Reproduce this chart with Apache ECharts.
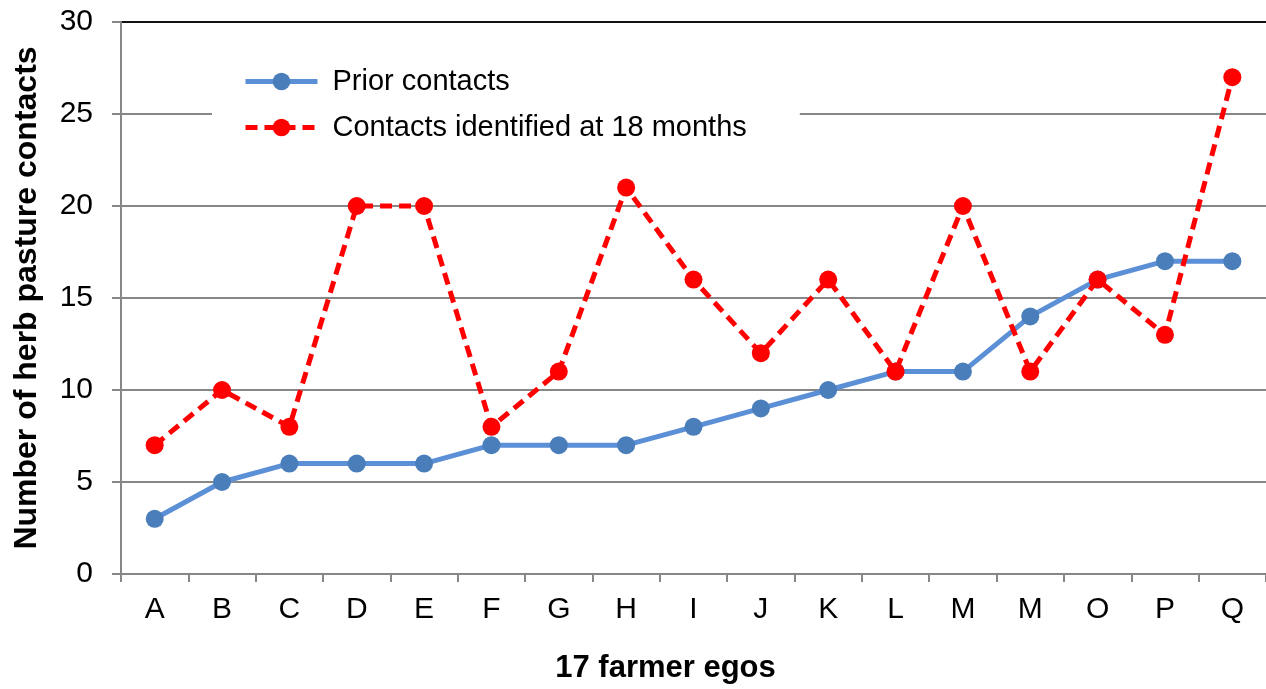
<!DOCTYPE html>
<html>
<head>
<meta charset="utf-8">
<script src="https://cdn.jsdelivr.net/npm/echarts@6/dist/echarts.min.js"></script>
<style>
html,body{margin:0;padding:0;background:#fff;}
#chart{width:1266px;height:689px;}
</style>
</head>
<body>
<div id="chart"></div>
<script>
const categories = ['A','B','C','D','E','F','G','H','I','J','K','L','M','M','O','P','Q'];
const priorContacts = [3,5,6,6,6,7,7,7,8,9,10,11,11,14,16,17,17];
const contacts18 = [7,10,8,20,20,8,11,21,16,12,16,11,20,11,16,13,27];
const seriesNames = ['Prior contacts','Contacts identified at 18 months'];
const yTicks = {min:0, max:30, interval:5};

const FONT = 'Arial, "Liberation Sans", sans-serif';
const gridGray = '#878787';

const chart = echarts.init(document.getElementById('chart'));
chart.setOption({
  animation:false,
  backgroundColor:'#fff',
  grid:{left:121, right:0, top:22, bottom:112, containLabel:false},
  legend:{
    orient:'vertical',
    left:212, top:57,
    backgroundColor:'#fff',
    padding:[10,53,10,31],
    itemWidth:72, itemHeight:22,
    itemGap:17,
    lineStyle:{width:5},
    textStyle:{fontFamily:FONT, fontSize:29, color:'#000', padding:[0,0,0,10]},
    data:seriesNames
  },
  xAxis:{
    type:'category',
    data:categories,
    boundaryGap:true,
    name:'17 farmer egos',
    nameLocation:'middle',
    nameGap:79,
    nameTextStyle:{fontFamily:FONT, fontSize:31, fontWeight:'bold', color:'#000', padding:[0,56,0,0]},
    axisLine:{lineStyle:{color:gridGray, width:2}},
    axisTick:{show:true, length:8, lineStyle:{color:gridGray, width:2}, alignWithLabel:false},
    axisLabel:{fontFamily:FONT, fontSize:30, color:'#000', margin:21, interval:0}
  },
  yAxis:{
    type:'value',
    min:yTicks.min, max:yTicks.max, interval:yTicks.interval,
    name:'Number of herb pasture contacts',
    nameLocation:'middle',
    nameGap:78,
    nameTextStyle:{fontFamily:FONT, fontSize:32, fontWeight:'bold', color:'#000'},
    axisLine:{show:true, lineStyle:{color:gridGray, width:2}},
    axisTick:{show:true, length:9, lineStyle:{color:gridGray, width:2}},
    axisLabel:{fontFamily:FONT, fontSize:30, color:'#000', margin:28},
    splitLine:{show:true, lineStyle:{color:[gridGray,gridGray,gridGray,gridGray,gridGray,gridGray,'#111'], width:2}}
  },
  series:[
    {
      name:seriesNames[0],
      type:'line',
      data:priorContacts,
      symbol:'circle', symbolSize:18,
      lineStyle:{color:'#5B8FD6', width:5},
      itemStyle:{color:'#4A7EBB'},
      z:2
    },
    {
      name:seriesNames[1],
      type:'line',
      data:contacts18,
      symbol:'circle', symbolSize:18,
      lineStyle:{color:'#FF0000', width:5, type:[12,7]},
      itemStyle:{color:'#FF0000'},
      z:3
    }
  ]
});
</script>
</body>
</html>
